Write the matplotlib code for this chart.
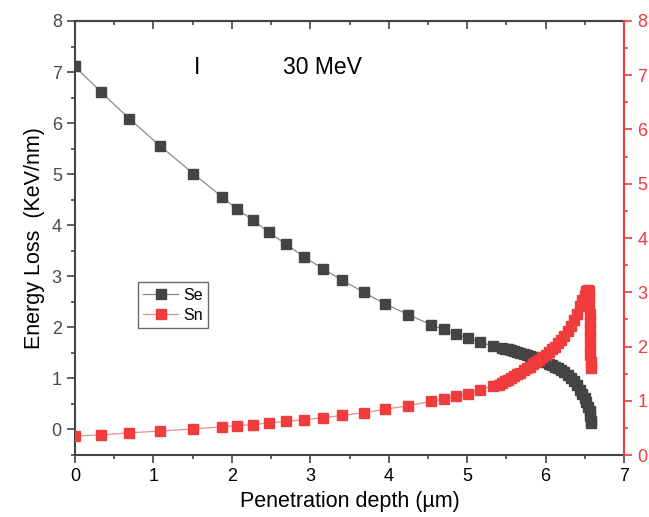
import matplotlib
matplotlib.use("Agg")
import matplotlib.pyplot as plt
from matplotlib.ticker import MultipleLocator

plt.rcParams['font.family'] = ['Liberation Sans', 'DejaVu Sans']

# Se (elektronove ztraty), leva osa
se_x = [0.00, 0.33, 0.69, 1.08, 1.51, 1.87, 2.06, 2.27, 2.47, 2.69, 2.92, 3.16,
        3.41, 3.68, 3.95, 4.25, 4.54, 4.70, 4.86, 5.01, 5.17, 5.33,
        5.44, 5.48, 5.52, 5.56, 5.60, 5.64, 5.68, 5.72, 5.76, 5.80, 5.84, 5.88,
        5.92, 5.96, 6.00, 6.04, 6.08, 6.12, 6.16, 6.20, 6.24, 6.28, 6.32, 6.36,
        6.40, 6.44, 6.47, 6.50, 6.52, 6.54, 6.56, 6.57, 6.58, 6.58]
se_y = [7.11, 6.61, 6.09, 5.56, 5.01, 4.56, 4.32, 4.10, 3.86, 3.63, 3.38, 3.15,
        2.92, 2.69, 2.46, 2.25, 2.05, 1.96, 1.87, 1.79, 1.71, 1.63,
        1.60, 1.58, 1.57, 1.55, 1.53, 1.51, 1.50, 1.48, 1.46, 1.44, 1.42, 1.39,
        1.37, 1.34, 1.32, 1.29, 1.26, 1.23, 1.20, 1.16, 1.12, 1.07, 1.01, 0.95,
        0.87, 0.78, 0.70, 0.62, 0.54, 0.45, 0.36, 0.26, 0.17, 0.12]

# Sn (jaderne ztraty), prava osa
sn_x = [0.00, 0.33, 0.69, 1.08, 1.51, 1.87, 2.06, 2.27, 2.47, 2.69, 2.92, 3.16,
        3.41, 3.68, 3.95, 4.25, 4.54, 4.70, 4.86, 5.01, 5.17, 5.33,
        5.40, 5.44, 5.48, 5.52, 5.56, 5.60, 5.64, 5.68, 5.72, 5.76, 5.80, 5.84,
        5.88, 5.92, 5.96, 6.00, 6.04, 6.08, 6.12, 6.16, 6.20, 6.24, 6.28, 6.32,
        6.36, 6.40, 6.44, 6.47, 6.50, 6.52, 6.54, 6.55, 6.555, 6.558, 6.561,
        6.563, 6.565, 6.567, 6.569, 6.571, 6.573, 6.575]
sn_y = [0.35, 0.37, 0.41, 0.44, 0.48, 0.52, 0.54, 0.56, 0.59, 0.62, 0.65, 0.69,
        0.73, 0.78, 0.84, 0.91, 0.99, 1.03, 1.08, 1.13, 1.20, 1.28,
        1.29, 1.32, 1.36, 1.39, 1.42, 1.45, 1.49, 1.52, 1.56, 1.60, 1.63, 1.67,
        1.71, 1.75, 1.80, 1.85, 1.90, 1.95, 2.00, 2.06, 2.12, 2.20, 2.28, 2.37,
        2.48, 2.60, 2.74, 2.85, 2.95, 3.02, 3.05, 3.03, 2.90, 2.75, 2.60,
        2.45, 2.30, 2.15, 2.00, 1.85, 1.72, 1.60]

RED = "#f03c3c"
DARK = "#444444"

fig = plt.figure(figsize=(6.49, 5.17), dpi=100)
ax = fig.add_axes([0.1156, 0.1199, 0.8459, 0.8395])
ax2 = ax.twinx()

l1, = ax.plot(se_x, se_y, color="#8a8a8a", lw=0.9, marker="s", ms=6.5,
              mfc=DARK, mec=DARK, label="Se")
l2, = ax2.plot(sn_x, sn_y, color="#f58a8a", lw=0.9, marker="s", ms=6.5,
               mfc=RED, mec=RED, label="Sn")

ax.set_xlim(0, 7)
ax.set_ylim(-0.5, 8)
ax2.set_ylim(0, 8)

ax.xaxis.set_major_locator(MultipleLocator(1))
ax.xaxis.set_minor_locator(MultipleLocator(0.5))
ax.yaxis.set_major_locator(MultipleLocator(1))
ax.yaxis.set_minor_locator(MultipleLocator(0.5))
ax2.yaxis.set_major_locator(MultipleLocator(1))
ax2.yaxis.set_minor_locator(MultipleLocator(0.5))

for s in ["left", "bottom", "top"]:
    ax.spines[s].set_color(DARK)
    ax.spines[s].set_linewidth(1.5)
ax2.spines["right"].set_color(RED)
ax2.spines["right"].set_linewidth(1.5)
for s in ["left", "bottom", "top"]:
    ax2.spines[s].set_visible(False)
ax.spines["right"].set_visible(False)

ax.tick_params(axis="x", which="both", direction="out", top=False,
               colors=DARK, labelcolor="black", labelsize=13, width=1.2)
ax.tick_params(axis="x", which="major", length=6)
ax.tick_params(axis="x", which="minor", length=3)
ax.tick_params(axis="y", which="both", direction="out", colors=DARK,
               labelcolor="#4a4a4a", labelsize=13, width=1.2)
ax.tick_params(axis="y", which="major", length=6)
ax.tick_params(axis="y", which="minor", length=3)
ax2.tick_params(axis="y", which="both", direction="out", colors=RED,
                labelcolor=RED, labelsize=13, width=1.2)
ax2.tick_params(axis="y", which="major", length=6)
ax2.tick_params(axis="y", which="minor", length=3)

# horni osa: tiky dovnitr, bez popisku
top = ax.secondary_xaxis("top")
top.xaxis.set_major_locator(MultipleLocator(1))
top.xaxis.set_minor_locator(MultipleLocator(0.5))
top.tick_params(which="both", direction="in", colors=DARK, width=1.2,
                labeltop=False)
top.tick_params(which="major", length=6)
top.tick_params(which="minor", length=3)
top.spines["top"].set_color(DARK)
top.spines["top"].set_linewidth(1.5)

ax.set_xlabel("Penetration depth (\u00b5m)", fontsize=15.5, labelpad=4)
ax.set_ylabel("Energy Loss  (KeV/nm)", fontsize=15.5, labelpad=5)

ax.text(1.56, 7.08, "I", fontsize=16.5, ha="center", va="center")
ax.text(3.15, 7.08, "30 MeV", fontsize=16.5, ha="center", va="center")

leg = ax.legend(handles=[l1, l2], loc="upper left",
                bbox_to_anchor=(0.114, 0.398), fontsize=11.5, frameon=True,
                fancybox=False, edgecolor=DARK, handlelength=2.2,
                handletextpad=0.3, borderpad=0.35, labelspacing=0.3,
                borderaxespad=0)
leg.get_frame().set_linewidth(1.0)

fig.savefig("out.png", dpi=100)
